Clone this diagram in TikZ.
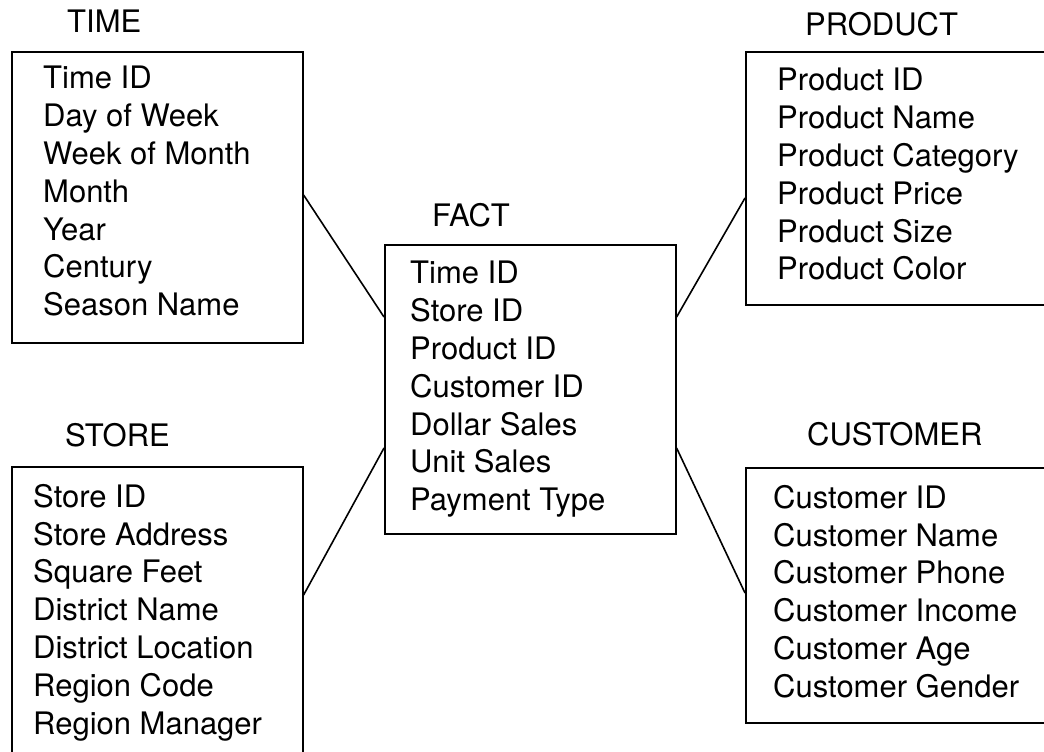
\documentclass[tikz,border=0pt]{standalone}
\usepackage{fontspec}
\setmainfont{TeX Gyre Heros}
\usetikzlibrary{positioning}

\begin{document}
\begin{tikzpicture}[
        x=1pt, y=-1pt,
        % Define styles for the tables
        table_box/.style={draw, rectangle, line width=1.6pt, inner sep=0pt, anchor=north west},
        field_list/.style={align=left, inner sep=0pt, font=\fontsize{31}{37.8}\selectfont},
        table_title/.style={inner sep=0pt, font=\fontsize{31}{37.8}\selectfont},
        link/.style={line width=1.6pt}
    ]

    % Page frame, clipped like the original
    \path[use as bounding box, clip] (0,0) rectangle (1044,752);

    % ==============================
    % === DIMENSION TABLES (left) ===
    % ==============================
    \node (time) [table_box, minimum width=291pt, minimum height=291pt] at (11,51) {};
    \node (time_title) [table_title, above right=18pt and 56pt of time.north west] {TIME};
    \node (time_fields) [field_list, below right=15pt and 32pt of time.north west]
        {Time ID\\Day of Week\\Week of Month\\Month\\Year\\Century\\Season Name};

    \node (store) [table_box, minimum width=291pt, minimum height=314pt] at (11,466) {};
    \node (store_title) [table_title, above right=19pt and 54pt of store.north west] {STORE};
    \node (store_fields) [field_list, below right=18pt and 22pt of store.north west]
        {Store ID\\Store Address\\Square Feet\\District Name\\District Location\\Region Code\\Region Manager};

    % ==============================
    % === FACT TABLE (centre) ===
    % ==============================
    \node (fact) [table_box, minimum width=291pt, minimum height=289pt] at (384,244) {};
    \node (fact_title) [table_title, above right=17pt and 48pt of fact.north west] {FACT};
    \node (fact_fields) [field_list, below right=17pt and 26pt of fact.north west]
        {Time ID\\Store ID\\Product ID\\Customer ID\\Dollar Sales\\Unit Sales\\Payment Type};

    % ==============================
    % === DIMENSION TABLES (right) ===
    % ==============================
    \node (product) [table_box, minimum width=315pt, minimum height=253pt] at (745,51) {};
    \node (product_title) [table_title, above right=15pt and 60pt of product.north west] {PRODUCT};
    \node (product_fields) [field_list, below right=17pt and 32pt of product.north west]
        {Product ID\\Product Name\\Product Category\\Product Price\\Product Size\\Product Color};

    \node (customer) [table_box, minimum width=315pt, minimum height=255pt] at (745,467) {};
    \node (customer_title) [table_title, above right=21pt and 62pt of customer.north west] {CUSTOMER};
    \node (customer_fields) [field_list, below right=18pt and 28pt of customer.north west]
        {Customer ID\\Customer Name\\Customer Phone\\Customer Income\\Customer Age\\Customer Gender};

    % Links between fact and dimensions
    \draw [link] ([yshift=-144pt]time.north east) -- ([yshift=-73pt]fact.north west);
    \draw [link] ([yshift=-129pt]store.north east) -- ([yshift=-204pt]fact.north west);
    \draw [link] ([yshift=-73pt]fact.north east) -- ([yshift=-147pt]product.north west);
    \draw [link] ([yshift=-204pt]fact.north east) -- ([yshift=-126pt]customer.north west);

\end{tikzpicture}
\end{document}
